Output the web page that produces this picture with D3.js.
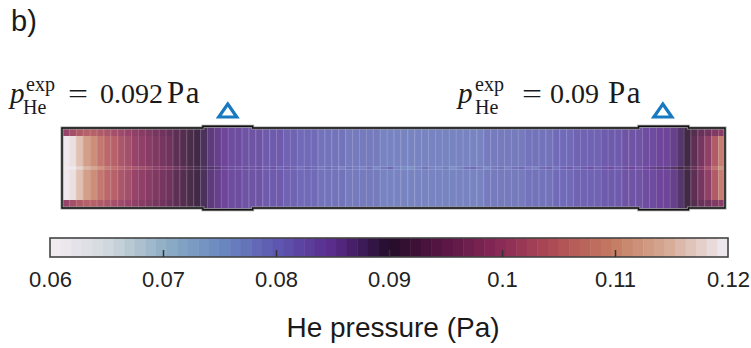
<!DOCTYPE html>
<html>
<head>
<meta charset="utf-8">
<script src="https://cdn.jsdelivr.net/npm/d3@7"></script>
<style>
  body { margin: 0; background: #fff; }
  text { fill: #1a1a1a; }
</style>
</head>
<body>
<div id="chart"></div>
<script>
var width = 751;
var height = 348;

// axial He pressure (Pa) per column, core of the channel
var corePressure = [
  0.120,0.119,0.116,0.112,0.110,0.108,0.106,0.105,0.103,0.102,
  0.100,0.099,0.098,0.097,0.096,0.095,0.093,0.092,0.091,0.090,
  0.089,0.087,0.086,0.085,0.084,0.084,0.083,0.083,0.083,0.082,
  0.082,0.082,0.081,0.081,0.080,0.080,0.080,0.079,0.079,0.079,
  0.079,0.078,0.078,0.078,0.078,0.078,0.077,0.077,0.077,0.077,
  0.077,0.077,0.077,0.077,0.077,0.077,0.077,0.077,0.077,0.077,
  0.077,0.078,0.078,0.078,0.078,0.078,0.078,0.079,0.079,0.079,
  0.079,0.080,0.080,0.080,0.081,0.081,0.081,0.081,0.082,0.082,
  0.082,0.083,0.083,0.083,0.084,0.084,0.085,0.085,0.086,0.088,
  0.090,0.093,0.096,0.099,0.104,0.109];

// next to the walls (top and bottom rows)
var wallPressure = [
  0.100,0.102,0.104,0.105,0.105,0.104,0.103,0.102,0.101,0.100,
  0.099,0.098,0.097,0.096,0.095,0.094,0.093,0.092,0.091,0.090,
  0.089,0.087,0.086,0.085,0.084,0.084,0.083,0.083,0.083,0.082,
  0.082,0.082,0.081,0.081,0.080,0.080,0.080,0.079,0.079,0.079,
  0.079,0.078,0.078,0.078,0.078,0.078,0.077,0.077,0.077,0.077,
  0.077,0.077,0.077,0.077,0.077,0.077,0.077,0.077,0.077,0.077,
  0.077,0.078,0.078,0.078,0.078,0.078,0.078,0.079,0.079,0.079,
  0.079,0.080,0.080,0.080,0.081,0.081,0.081,0.081,0.082,0.082,
  0.082,0.083,0.083,0.083,0.084,0.084,0.085,0.085,0.086,0.088,
  0.090,0.092,0.094,0.095,0.097,0.098];

// on the axis (thin centre line)
var axisPressure = [
  0.121,0.120,0.118,0.115,0.113,0.111,0.109,0.107,0.106,0.104,
  0.103,0.102,0.101,0.099,0.098,0.097,0.095,0.094,0.092,0.091,
  0.089,0.088,0.087,0.085,0.084,0.083,0.084,0.083,0.084,0.082,
  0.083,0.081,0.082,0.081,0.079,0.081,0.080,0.078,0.080,0.079,
  0.077,0.079,0.078,0.077,0.079,0.076,0.078,0.080,0.077,0.076,
  0.075,0.077,0.079,0.077,0.076,0.078,0.075,0.077,0.079,0.080,
  0.078,0.076,0.078,0.079,0.077,0.079,0.080,0.078,0.077,0.080,
  0.081,0.079,0.081,0.082,0.080,0.082,0.083,0.081,0.083,0.084,
  0.082,0.084,0.085,0.083,0.085,0.086,0.087,0.087,0.088,0.090,
  0.091,0.094,0.098,0.102,0.107,0.111];

// probe positions (column units) and measured pressures
var probePos = [24, 87];
var probeLabel = ["0.092", "0.09"];
// wider sections of the channel (column units)
var wideSections = [[20.4, 27.6], [83.5, 90.7]];

// colour map stops
var cmapValues = [0.060, 0.065, 0.070, 0.075, 0.080, 0.085, 0.090, 0.095, 0.100, 0.105, 0.110, 0.115, 0.120];
var cmapColors = ["#f1ebf1", "#cfd7dc", "#8cacc4", "#6a88c0", "#5e56b0", "#5a2a8a", "#230c2a",
                  "#5a1646", "#8a2a56", "#b04e55", "#c47a62", "#d6aa94", "#ede6ec"];
var tickValues = [0.06, 0.07, 0.08, 0.09, 0.1, 0.11, 0.12];

var svg = d3.select("#chart").append("svg")
  .attr("width", width)
  .attr("height", height);

var color = d3.scaleLinear().domain(cmapValues).range(cmapColors);
var nLevels = 64;
function levelColor(v) {
  var t = Math.round((v - 0.06) / 0.06 * (nLevels - 1));
  t = Math.max(0, Math.min(nLevels - 1, t));
  return color(0.06 + t * 0.06 / (nLevels - 1));
}

// heat map scales
var nCols = corePressure.length;
var x = d3.scaleLinear().domain([0, nCols]).range([62, 725]);
var y = d3.scaleLinear().domain([-1, 1]).range([208, 128]);
var wideR = 1.045;

// channel outline
function outlinePath() {
  var p = d3.path();
  p.moveTo(x(0), y(1));
  wideSections.forEach(function(s) {
    p.lineTo(x(s[0]), y(1)); p.lineTo(x(s[0]), y(wideR));
    p.lineTo(x(s[1]), y(wideR)); p.lineTo(x(s[1]), y(1));
  });
  p.lineTo(x(nCols), y(1));
  p.lineTo(x(nCols), y(-1));
  wideSections.slice().reverse().forEach(function(s) {
    p.lineTo(x(s[1]), y(-1)); p.lineTo(x(s[1]), y(-wideR));
    p.lineTo(x(s[0]), y(-wideR)); p.lineTo(x(s[0]), y(-1));
  });
  p.lineTo(x(0), y(-1));
  p.closePath();
  return p.toString();
}

svg.append("clipPath").attr("id", "chan")
  .append("path").attr("d", outlinePath());

var heat = svg.append("g").attr("clip-path", "url(#chan)");

// rows: radial extent and which profile they use
var rows = [
  { r0: -wideR, r1: -0.8, vals: wallPressure },
  { r0: -0.8, r1: -0.03, vals: corePressure },
  { r0: 0.03, r1: 0.8, vals: corePressure },
  { r0: 0.8, r1: wideR, vals: wallPressure },
  { r0: -0.03, r1: 0.03, vals: axisPressure }
];

var cells = heat.append("g").attr("opacity", 0.88);
rows.forEach(function(row) {
  cells.selectAll(null)
    .data(row.vals)
    .enter()
    .append("rect")
    .attr("x", (d, i) => x(i))
    .attr("width", x(1) - x(0) + 0.4)
    .attr("y", y(row.r1))
    .attr("height", y(row.r0) - y(row.r1))
    .attr("fill", d => levelColor(d));
});

// faint cell borders
heat.selectAll("line.grid")
  .data(d3.range(1, nCols))
  .enter()
  .append("line")
  .attr("x1", d => x(d) + 0.5).attr("x2", d => x(d) + 0.5)
  .attr("y1", y(wideR)).attr("y2", y(-wideR))
  .attr("stroke", "#fff")
  .attr("stroke-opacity", 0.18)
  .attr("stroke-width", 1);

svg.append("path")
  .attr("d", outlinePath())
  .attr("fill", "none")
  .attr("stroke", "#9a9a9a")
  .attr("stroke-width", 3);
svg.append("path")
  .attr("d", outlinePath())
  .attr("fill", "none")
  .attr("stroke", "#111")
  .attr("stroke-width", 1.4);

// probe markers
svg.selectAll("path.probe")
  .data(probePos)
  .enter()
  .append("path")
  .attr("class", "probe")
  .attr("d", d => `M${x(d)},104 L${x(d) + 9},117 L${x(d) - 9},117 Z`)
  .attr("fill", "#fff")
  .attr("stroke", "#1878c0")
  .attr("stroke-width", 3.2)
  .attr("stroke-linejoin", "miter");

// p_He^exp labels
var labelX = [10, 458];
probeLabel.forEach(function(v, k) {
  var x0 = labelX[k];
  var g = svg.append("g").style("font-family", "'Liberation Serif', 'Times New Roman', serif");
  g.append("text").attr("x", x0).attr("y", 103)
    .style("font-size", "29px").style("font-style", "italic").text("p");
  g.append("text").attr("x", x0 + (k ? 17 : 16)).attr("y", 91)
    .style("font-size", "20px").text("exp");
  g.append("text").attr("x", x0 + (k ? 17 : 13)).attr("y", 114)
    .style("font-size", "20px").text("He");
  g.append("text").attr("x", x0 + (k ? 64 : 58)).attr("y", 103)
    .attr("textLength", 20).attr("lengthAdjust", "spacingAndGlyphs")
    .style("font-size", "28px").text("=");
  g.append("text").attr("x", x0 + (k ? 92 : 90)).attr("y", 103)
    .style("font-size", "28px").text(v);
  g.append("text").attr("x", x0 + (k ? 150 : 157)).attr("y", 103)
    .style("font-size", "31px").style("letter-spacing", "1.5px").text("Pa");
});

// panel letter
svg.append("text")
  .attr("x", 11).attr("y", 31)
  .style("font-family", "'Liberation Sans', Arial, sans-serif")
  .style("font-size", "29px")
  .text("b)");

// colour bar
var cx = d3.scaleLinear().domain([0.06, 0.12]).range([50, 728]);
var cbTop = 238, cbBot = 257;
var steps = d3.range(nLevels);
var stepW = (cx(0.12) - cx(0.06)) / nLevels;
svg.append("g").selectAll("rect")
  .data(steps)
  .enter()
  .append("rect")
  .attr("x", d => cx(0.06) + d * stepW)
  .attr("width", stepW + 0.5)
  .attr("y", cbTop)
  .attr("height", cbBot - cbTop)
  .attr("fill", d => color(0.06 + d * 0.06 / (nLevels - 1)));

svg.append("rect")
  .attr("x", cx(0.06)).attr("y", cbTop)
  .attr("width", cx(0.12) - cx(0.06)).attr("height", cbBot - cbTop)
  .attr("fill", "none").attr("stroke", "#444").attr("stroke-width", 1.6);

var cbAxis = d3.axisBottom(cx)
  .tickValues(tickValues)
  .tickSize(7)
  .tickFormat(d3.format("~g"));

var axisG = svg.append("g")
  .attr("transform", `translate(0, ${cbBot})`)
  .call(cbAxis);
axisG.select(".domain").remove();
axisG.selectAll(".tick line")
  .attr("y2", -7)
  .attr("stroke", "#333")
  .attr("stroke-width", 1.5)
  .filter(d => d === 0.06 || d === 0.12).remove();
axisG.selectAll(".tick text")
  .attr("y", 30)
  .attr("dy", 0)
  .style("font-family", "'Liberation Sans', Arial, sans-serif")
  .style("font-size", "22px")
  .style("fill", "#222");

svg.append("text")
  .attr("x", 393).attr("y", 337)
  .attr("text-anchor", "middle")
  .style("font-family", "'Liberation Sans', Arial, sans-serif")
  .style("font-size", "28px")
  .text("He pressure (Pa)");
</script>
</body>
</html>
